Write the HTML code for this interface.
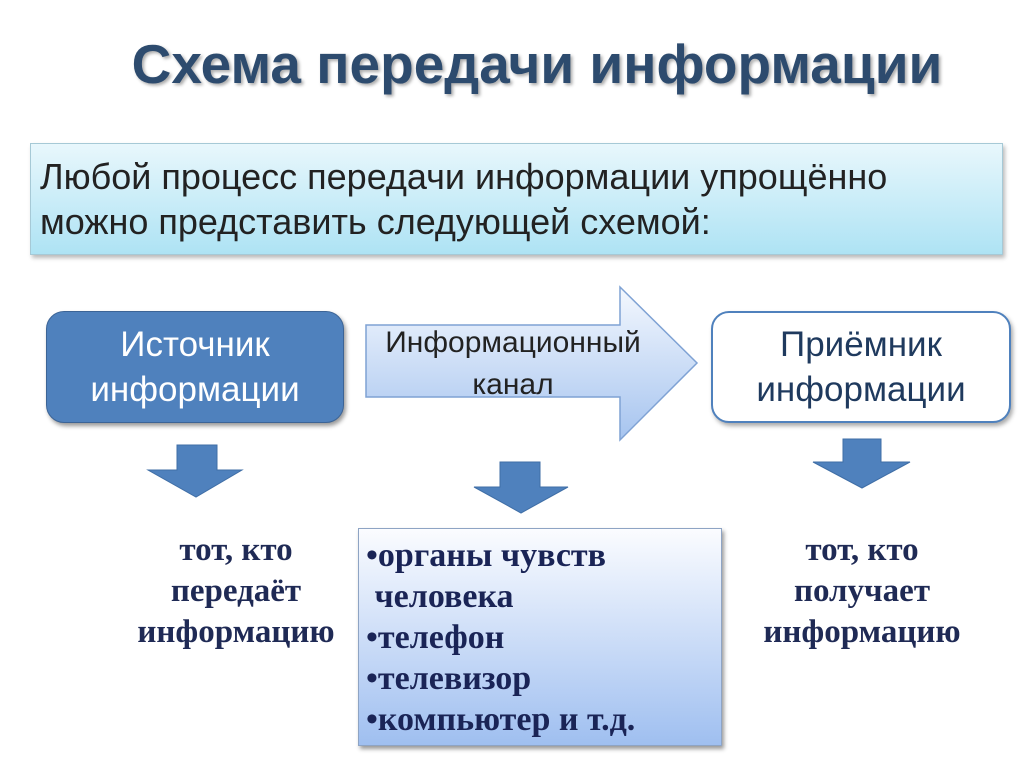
<!DOCTYPE html>
<html><head><meta charset="utf-8"><style>
body{margin:0;width:1024px;height:767px;background:#fff;position:relative;overflow:hidden;font-family:"Liberation Sans",sans-serif}
.a{position:absolute}
.t{white-space:nowrap}
</style></head><body>
<div class="a t" style="left:0;width:1074px;top:32px;text-align:center;font-size:55px;font-weight:bold;color:#2d4b6e;text-shadow:2px 2px 3px #aaa">Схема передачи информации</div>
<div class="a" style="left:30px;top:143px;width:971px;height:110px;border:1px solid #a6c9d6;background:linear-gradient(#e8f7fc,#aee3f4);box-shadow:2px 3px 4px #bbb"></div>
<div class="a t" style="left:40px;top:154px;font-size:36px;line-height:45px;color:#222">Любой процесс передачи информации упрощённо<br>можно представить следующей схемой:</div>
<div class="a" style="left:46px;top:311px;width:296px;height:110px;border:1px solid #3c6496;border-radius:18px;background:#4f81bd;box-shadow:2px 3px 4px #999;color:#fff;font-size:35px;line-height:45px;text-align:center;display:flex;align-items:center;justify-content:center">Источник<br>информации</div>
<svg class="a" style="left:0;top:0" width="1024" height="767">
<defs><linearGradient id="g" x1="0" y1="0" x2="0" y2="1"><stop offset="0" stop-color="#f4f8fe"/><stop offset="1" stop-color="#a6c4ef"/></linearGradient></defs>
<polygon points="366,325 620,325 620,287 697,363 620,440 620,397 366,397" fill="url(#g)" stroke="#7fa2d4" stroke-width="1.5"/>
<g fill="#4f81bd" stroke="#3f6ea6" stroke-width="1">
<polygon points="177,445 217,445 217,470 242,470 196,497 148,470 177,470"/>
<polygon points="500,462 540,462 540,487 568,487 521,513 474,487 500,487"/>
<polygon points="843,439 881,439 881,462 910,462 862,488 813,462 843,462"/>
</g>
</svg>
<div class="a t" style="left:363px;width:300px;top:322px;text-align:center;font-size:30px;line-height:42px;color:#222">Информационный<br>канал</div>
<div class="a" style="left:711px;top:311px;width:296px;height:108px;border:2px solid #4f81bd;border-radius:18px;background:#fff;box-shadow:2px 3px 4px #aaa;color:#1f3a5e;font-size:35px;line-height:45px;text-align:center;display:flex;align-items:center;justify-content:center">Приёмник<br>информации</div>
<div class="a t" style="left:96px;width:280px;top:530px;text-align:center;font-family:'Liberation Serif',serif;font-weight:bold;font-size:33px;line-height:41px;color:#1f2a55">тот, кто<br>передаёт<br>информацию</div>
<div class="a t" style="left:722px;width:280px;top:530px;text-align:center;font-family:'Liberation Serif',serif;font-weight:bold;font-size:33px;line-height:41px;color:#1f2a55">тот, кто<br>получает<br>информацию</div>
<div class="a" style="left:358px;top:528px;width:362px;height:216px;border:1px solid #8ea4c4;background:linear-gradient(#fbfcff,#9fbff0);box-shadow:2px 3px 4px #999"></div>
<div class="a t" style="left:366px;top:535px;font-family:'Liberation Serif',serif;font-weight:bold;font-size:34px;line-height:41px;color:#1a2456">•органы чувств<br>&nbsp;человека<br>•телефон<br>•телевизор<br>•компьютер и т.д.</div>
</body></html>
